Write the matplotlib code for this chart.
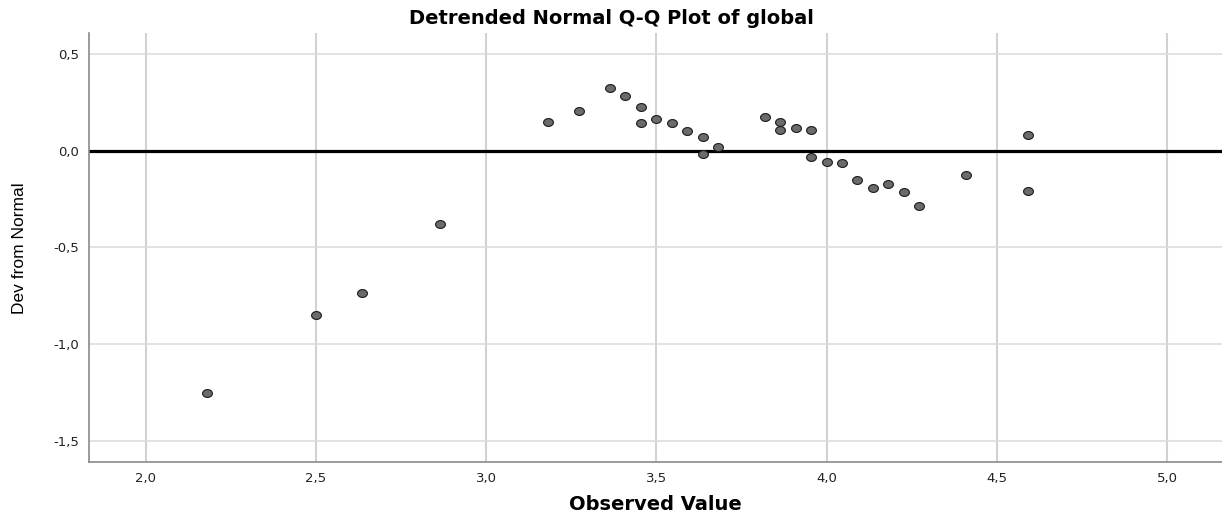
import numpy as np
import matplotlib
matplotlib.use("Agg")
import matplotlib.pyplot as plt
from matplotlib.path import Path
from matplotlib.ticker import FuncFormatter, FixedLocator
from matplotlib import font_manager

# ---- data ----
observed = [2.182, 2.500, 2.636, 2.864, 3.182, 3.273, 3.364, 3.409, 3.455, 3.455,
            3.500, 3.545, 3.591, 3.636, 3.636, 3.682, 3.818, 3.864, 3.864, 3.909,
            3.955, 3.955, 4.000, 4.045, 4.091, 4.136, 4.182, 4.227, 4.273, 4.409,
            4.591, 4.591]
dev_from_normal = [-1.255, -0.850, -0.736, -0.380, 0.147, 0.207, 0.326, 0.283, 0.228, 0.145,
                   0.164, 0.142, 0.103, 0.069, -0.017, 0.021, 0.176, 0.150, 0.107, 0.119,
                   0.107, -0.031, -0.057, -0.065, -0.152, -0.193, -0.174, -0.212, -0.284, -0.127,
                   0.083, -0.208]
x_ticks = [2.0, 2.5, 3.0, 3.5, 4.0, 4.5, 5.0]
y_ticks = [-1.5, -1.0, -0.5, 0.0, 0.5]
title = "Detrended Normal Q-Q Plot of global"
x_label = "Observed Value"
y_label = "Dev from Normal"

# ---- fonts ----
def has_font(name):
    try:
        font_manager.findfont(name, fallback_to_default=False)
        return True
    except Exception:
        return False

ylabel_family = "Liberation Sans Narrow" if has_font("Liberation Sans Narrow") else "Liberation Sans"
ylabel_size = 15 if ylabel_family == "Liberation Sans Narrow" else 12.5

W, H = 1222, 518
fig = plt.figure(figsize=(W / 100, H / 100), dpi=100)
ax = fig.add_axes([89 / W, 1 - 462 / H, 1 - 89 / W, (462 - 33) / H])

ax.set_xlim(1.834, 5.1615)
ax.set_ylim(-1.610, 0.6086)

# grid
ax.xaxis.set_major_locator(FixedLocator(x_ticks))
ax.yaxis.set_major_locator(FixedLocator(y_ticks))
for xv in x_ticks:
    ax.axvline(xv, color="#d2d2d2", lw=1.5, zorder=0)
for yv in y_ticks:
    if yv != 0.0:
        ax.axhline(yv, color="#dadada", lw=1.1, zorder=0)
ax.axhline(0.0, color="black", lw=2.3, zorder=1)

# elliptical marker
t = np.linspace(0, 2 * np.pi, 40)
ell = Path(np.column_stack([np.cos(t), 0.8 * np.sin(t)]), closed=True)
ax.scatter(observed, dev_from_normal, marker=ell, s=50, facecolor="#6b6b6b",
           edgecolor="#1a1a1a", linewidths=0.8, zorder=3)

fmt = FuncFormatter(lambda v, p: f"{v:.1f}".replace(".", ","))
ax.xaxis.set_major_formatter(fmt)
ax.yaxis.set_major_formatter(fmt)
ax.tick_params(axis="both", length=0, labelsize=9.5, labelcolor="#222222")
ax.tick_params(axis="x", pad=7)
ax.tick_params(axis="y", pad=7)

for s in ["top", "right"]:
    ax.spines[s].set_visible(False)
for s in ["left", "bottom"]:
    ax.spines[s].set_color("#8a8a8a")
    ax.spines[s].set_linewidth(1.2)

fig.text(0.5, 1 - 19 / H, title, ha="center", va="center", fontsize=14,
         fontweight="bold", family="DejaVu Sans")
fig.text((89 + W) / 2 / W, 1 - 505 / H, x_label, ha="center", va="center",
         fontsize=14, fontweight="bold", family="DejaVu Sans")
fig.text(20 / W, 1 - 248 / H, y_label, ha="center", va="center", rotation=90,
         fontsize=ylabel_size, family=ylabel_family)

fig.savefig("out.png", dpi=100)
